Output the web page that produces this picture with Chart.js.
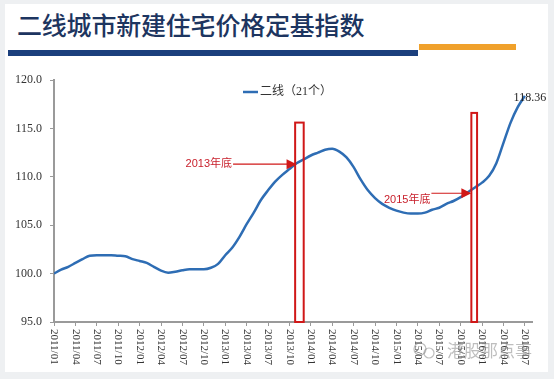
<!DOCTYPE html>
<html>
<head>
<meta charset="utf-8">
<script src="https://cdn.jsdelivr.net/npm/chart.js@4.4.1/dist/chart.umd.min.js"></script>
<style>
  html, body { margin: 0; padding: 0; background: #eef0f2; }
  #wrap { position: relative; width: 554px; height: 379px; overflow: hidden; }
  #card { position: absolute; left: 5px; top: 4px; width: 543px; height: 368px; background: #ffffff; }
  #title { position: absolute; left: 17px; top: 6px; font-family: "Noto Sans CJK SC", sans-serif; font-size: 25px; font-weight: 500; color: #1d3560; letter-spacing: -0.2px; white-space: nowrap; }
  #barBlue { position: absolute; left: 8px; top: 50px; width: 410px; height: 6px; background: #1b3f7d; }
  #barOrange { position: absolute; left: 419px; top: 44px; width: 97px; height: 6px; background: #f0a12b; }
  #c { position: absolute; left: 0; top: 0; }
</style>
</head>
<body>
<div id="wrap">
  <div id="card"></div>
  <div id="title">二线城市新建住宅价格定基指数</div>
  <div id="barBlue"></div>
  <div id="barOrange"></div>
  <canvas id="c" width="554" height="379"></canvas>
</div>
<script>
// ---- data ----
const seriesName = '二线（21个）';
// monthly index, 2011/01 .. 2016/07
const indexValues = [
  100.0, 100.4, 100.7, 101.1, 101.5, 101.85, 101.9, 101.9, 101.9, 101.85,
  101.8, 101.5, 101.3, 101.1, 100.7, 100.3, 100.1, 100.2, 100.35, 100.45,
  100.45, 100.45, 100.6, 101.0, 101.9, 102.7, 103.8, 105.1, 106.3, 107.6,
  108.6, 109.5, 110.2, 110.8, 111.4, 111.8, 112.2, 112.5, 112.8, 112.9,
  112.6, 112.0, 111.0, 109.7, 108.6, 107.8, 107.2, 106.8, 106.5, 106.3,
  106.2, 106.2, 106.3, 106.6, 106.8, 107.2, 107.5, 107.9, 108.4, 108.9,
  109.4, 110.1, 111.4, 113.5, 115.6, 117.2, 118.36
];
const monthIndex = indexValues.map((v, i) => i);
const xTickLabels = [
  '2011/01','2011/04','2011/07','2011/10','2012/01','2012/04','2012/07','2012/10',
  '2013/01','2013/04','2013/07','2013/10','2014/01','2014/04','2014/07','2014/10',
  '2015/01','2015/04','2015/07','2015/10','2016/01','2016/04','2016/07'
];
const yTicks = [95, 100, 105, 110, 115, 120];
const lastValueLabel = '118.36';
// annotations (in data units: month index / index value)
const noteTexts = ['2013年底', '2015年底'];
const noteArrowFrom = [25.1, 52.9];
const noteArrowTo = [34.0, 58.5];
const noteArrowValue = [111.3, 108.3];
const noteTextValue = [111.3, 107.6];
const boxFrom = [33.8, 58.5];
const boxTo = [35.0, 59.3];
const boxTop = [115.6, 116.6];
const boxBottom = [95, 95];

const points = monthIndex.map((x, i) => ({ x: x, y: indexValues[i] }));

const serif = '"Liberation Serif", "Times New Roman", "Noto Sans CJK SC", serif';

const overlay = {
  id: 'overlay',
  afterDatasetsDraw(chart) {
    const ctx = chart.ctx;
    const xs = chart.scales.x, ys = chart.scales.y;
    ctx.save();
    // red boxes
    ctx.strokeStyle = '#d01818';
    ctx.lineWidth = 2;
    for (let i = 0; i < boxFrom.length; i++) {
      const x1 = xs.getPixelForValue(boxFrom[i]), x2 = xs.getPixelForValue(boxTo[i]);
      const y1 = ys.getPixelForValue(boxTop[i]), y2 = ys.getPixelForValue(boxBottom[i]);
      ctx.strokeRect(x1, y1, x2 - x1, y2 - y1);
    }
    // arrows + texts
    for (let i = 0; i < noteTexts.length; i++) {
      const x1 = xs.getPixelForValue(noteArrowFrom[i]), x2 = xs.getPixelForValue(noteArrowTo[i]);
      const y = ys.getPixelForValue(noteArrowValue[i]);
      ctx.strokeStyle = '#d01818';
      ctx.lineWidth = 1.2;
      ctx.beginPath(); ctx.moveTo(x1, y); ctx.lineTo(x2 - 8, y); ctx.stroke();
      ctx.fillStyle = '#d01818';
      ctx.beginPath(); ctx.moveTo(x2, y); ctx.lineTo(x2 - 10, y - 5); ctx.lineTo(x2 - 10, y + 5); ctx.closePath(); ctx.fill();
      ctx.font = '11px "Liberation Sans", "Noto Sans CJK SC", sans-serif';
      ctx.textAlign = 'right';
      ctx.textBaseline = 'middle';
      ctx.fillStyle = '#c81e2a';
      ctx.fillText(noteTexts[i], x1 - 1, ys.getPixelForValue(noteTextValue[i]));
    }
    // last value label
    const lx = xs.getPixelForValue(monthIndex[monthIndex.length - 1]);
    const ly = ys.getPixelForValue(indexValues[indexValues.length - 1]);
    ctx.font = '12px ' + serif;
    ctx.fillStyle = '#222';
    ctx.textAlign = 'center';
    ctx.textBaseline = 'middle';
    ctx.fillText(lastValueLabel, lx + 5, ly + 2);
    // legend
    ctx.strokeStyle = '#2e6db4';
    ctx.lineWidth = 2.5;
    ctx.beginPath(); ctx.moveTo(243, 92); ctx.lineTo(258, 92); ctx.stroke();
    ctx.font = '12px ' + serif;
    ctx.fillStyle = '#333';
    ctx.textAlign = 'left';
    ctx.fillText(seriesName, 260, 92);
    // x tick labels rotated clockwise
    ctx.font = '11px ' + serif;
    ctx.fillStyle = '#333';
    ctx.textBaseline = 'middle';
    ctx.textAlign = 'left';
    xTickLabels.forEach((t, k) => {
      const px = xs.getPixelForValue(k * 3);
      ctx.save();
      ctx.translate(px, xs.top + 7);
      ctx.rotate(Math.PI / 2);
      ctx.fillText(t, 0, 0);
      ctx.restore();
    });
    // watermark
    ctx.font = '17px "Noto Sans CJK SC", sans-serif';
    ctx.fillStyle = 'rgba(110,110,110,0.45)';
    ctx.textAlign = 'left';
    ctx.fillText('港股那点事', 447, 351);
    ctx.strokeStyle = 'rgba(110,110,110,0.45)';
    ctx.lineWidth = 1.2;
    ctx.beginPath(); ctx.arc(420, 349, 6, 0, Math.PI * 2); ctx.stroke();
    ctx.beginPath(); ctx.arc(429, 353, 5, 0, Math.PI * 2); ctx.stroke();
    ctx.restore();
  }
};

new Chart(document.getElementById('c'), {
  type: 'line',
  data: {
    datasets: [{
      label: seriesName,
      data: points,
      borderColor: '#2e6db4',
      borderWidth: 2.5,
      pointRadius: 0,
      tension: 0.4,
      cubicInterpolationMode: 'monotone',
      fill: false
    }]
  },
  options: {
    responsive: false,
    animation: false,
    events: [],
    layout: { padding: { left: 0, top: 80, right: 22, bottom: 0 } },
    plugins: { legend: { display: false }, tooltip: { enabled: false } },
    scales: {
      x: {
        type: 'linear',
        min: 0,
        max: 67,
        afterFit: s => { s.height = 57; },
        border: { color: '#9a9a9a', width: 2 },
        grid: { drawOnChartArea: false, drawTicks: true, tickLength: 4, color: '#9a9a9a', lineWidth: 1 },
        ticks: { stepSize: 3, includeBounds: false, display: false }
      },
      y: {
        min: 95,
        max: 120,
        afterFit: s => { s.width = 54; },
        afterBuildTicks: s => { s.ticks = yTicks.map(v => ({ value: v })); },
        border: { color: '#9a9a9a', width: 2 },
        grid: { drawOnChartArea: false, drawTicks: true, tickLength: 4, color: '#9a9a9a', lineWidth: 1 },
        ticks: {
          padding: 8,
          color: '#333',
          font: { family: serif, size: 12 },
          callback: v => Number(v).toFixed(1)
        }
      }
    }
  },
  plugins: [overlay]
});
</script>
</body>
</html>
